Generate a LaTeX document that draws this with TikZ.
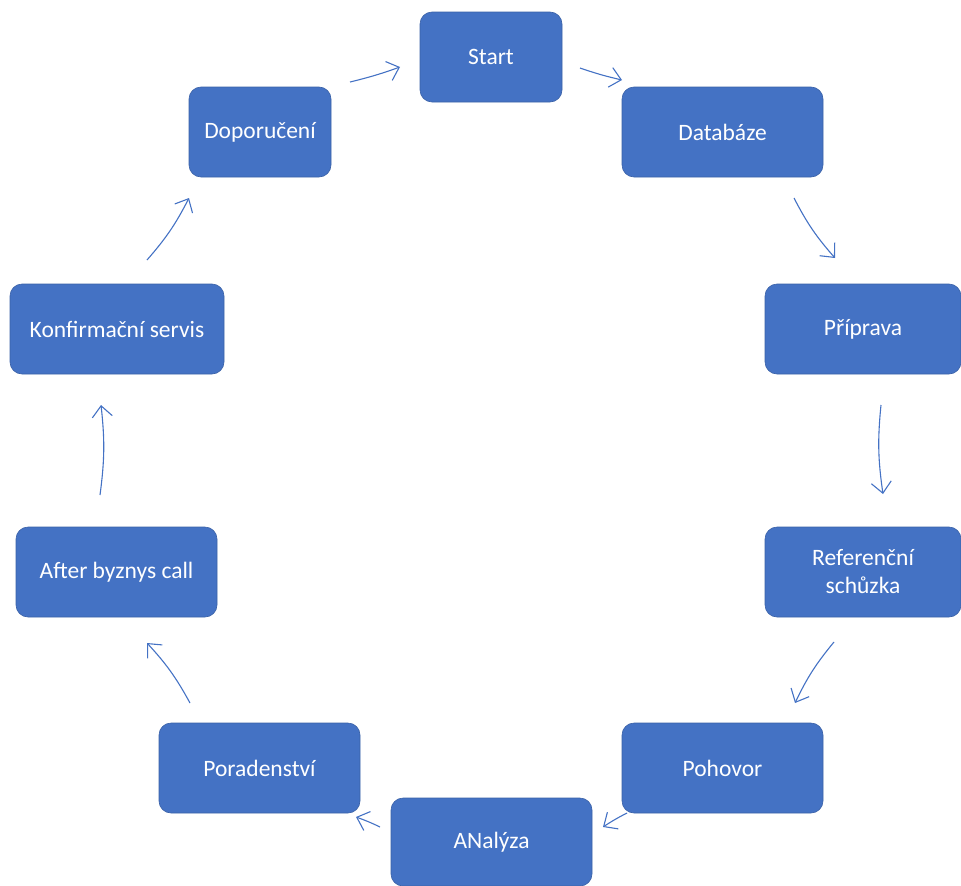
\documentclass[tikz,border=0pt]{standalone}
\usepackage{fontspec}
\setmainfont{Carlito}
\usetikzlibrary{arrows.meta}
\definecolor{boxblue}{HTML}{4472C4}
\begin{document}
\begin{tikzpicture}[x=1pt,y=-1pt,
  stepbox/.style={draw=boxblue!85!black,line width=0.6pt,fill=boxblue,rounded corners=12pt,text=white,
    font=\fontsize{23.5}{28}\selectfont,align=center,inner sep=0pt},
  flow/.style={draw=boxblue,line width=1.1pt,-{Straight Barb[length=11pt,width=20pt,line width=1.1pt]}}]
\useasboundingbox (0,0) rectangle (961,886);
\node[stepbox,minimum width=142pt,minimum height=90pt] (start) at (491,57) {Start};
\node[stepbox,minimum width=201pt,minimum height=90pt] (datab) at (722.5,132) {Databáze};
\node[stepbox,minimum width=196pt,minimum height=90pt] (prip) at (863,329) {Příprava};
\node[stepbox,minimum width=196pt,minimum height=90pt] (ref) at (863,572) {Referenční\\schůzka};
\node[stepbox,minimum width=201pt,minimum height=90pt] (pohov) at (722.5,768) {Pohovor};
\node[stepbox,minimum width=201pt,minimum height=88pt] (anal) at (491.5,842) {ANalýza};
\node[stepbox,minimum width=201pt,minimum height=90pt] (porad) at (259.5,768) {Poradenství};
\node[stepbox,minimum width=201pt,minimum height=90pt] (after) at (116.5,572) {After byznys call};
\node[stepbox,minimum width=214pt,minimum height=90pt] (konf) at (117,329) {Konfirmační servis};
\node[stepbox,minimum width=142pt,minimum height=90pt] (dopor) at (260,132) {Doporučení};
% arrow end points
\coordinate (a1s) at (350,82);  \coordinate (a1e) at (400,67);
\coordinate (a2s) at (580,68);  \coordinate (a2e) at (622,80);
\coordinate (a3s) at (794,198); \coordinate (a3e) at (835,258);
\coordinate (a4s) at (881,405); \coordinate (a4e) at (883,494);
\coordinate (a5s) at (834,642); \coordinate (a5e) at (795,703);
\coordinate (a6s) at (627,813); \coordinate (a6e) at (603,827);
\coordinate (a7s) at (380,827); \coordinate (a7e) at (356,817);
\coordinate (a8s) at (190,703); \coordinate (a8e) at (147,643);
\coordinate (a9s) at (100,495); \coordinate (a9e) at (101,405);
\coordinate (a10s) at (147,260); \coordinate (a10e) at (189,198);
\draw[flow] (a1s) to[bend right=3] (a1e);
\draw[flow] (a2s) to[bend right=3] (a2e);
\draw[flow] (a3s) to[bend right=7] (a3e);
\draw[flow] (a4s) to[bend right=7] (a4e);
\draw[flow] (a5s) to[bend right=7] (a5e);
\draw[flow] (a6s) to[bend right=3] (a6e);
\draw[flow] (a7s) to[bend right=3] (a7e);
\draw[flow] (a8s) to[bend right=7] (a8e);
\draw[flow] (a9s) to[bend right=7] (a9e);
\draw[flow] (a10s) to[bend right=7] (a10e);
\end{tikzpicture}
\end{document}
